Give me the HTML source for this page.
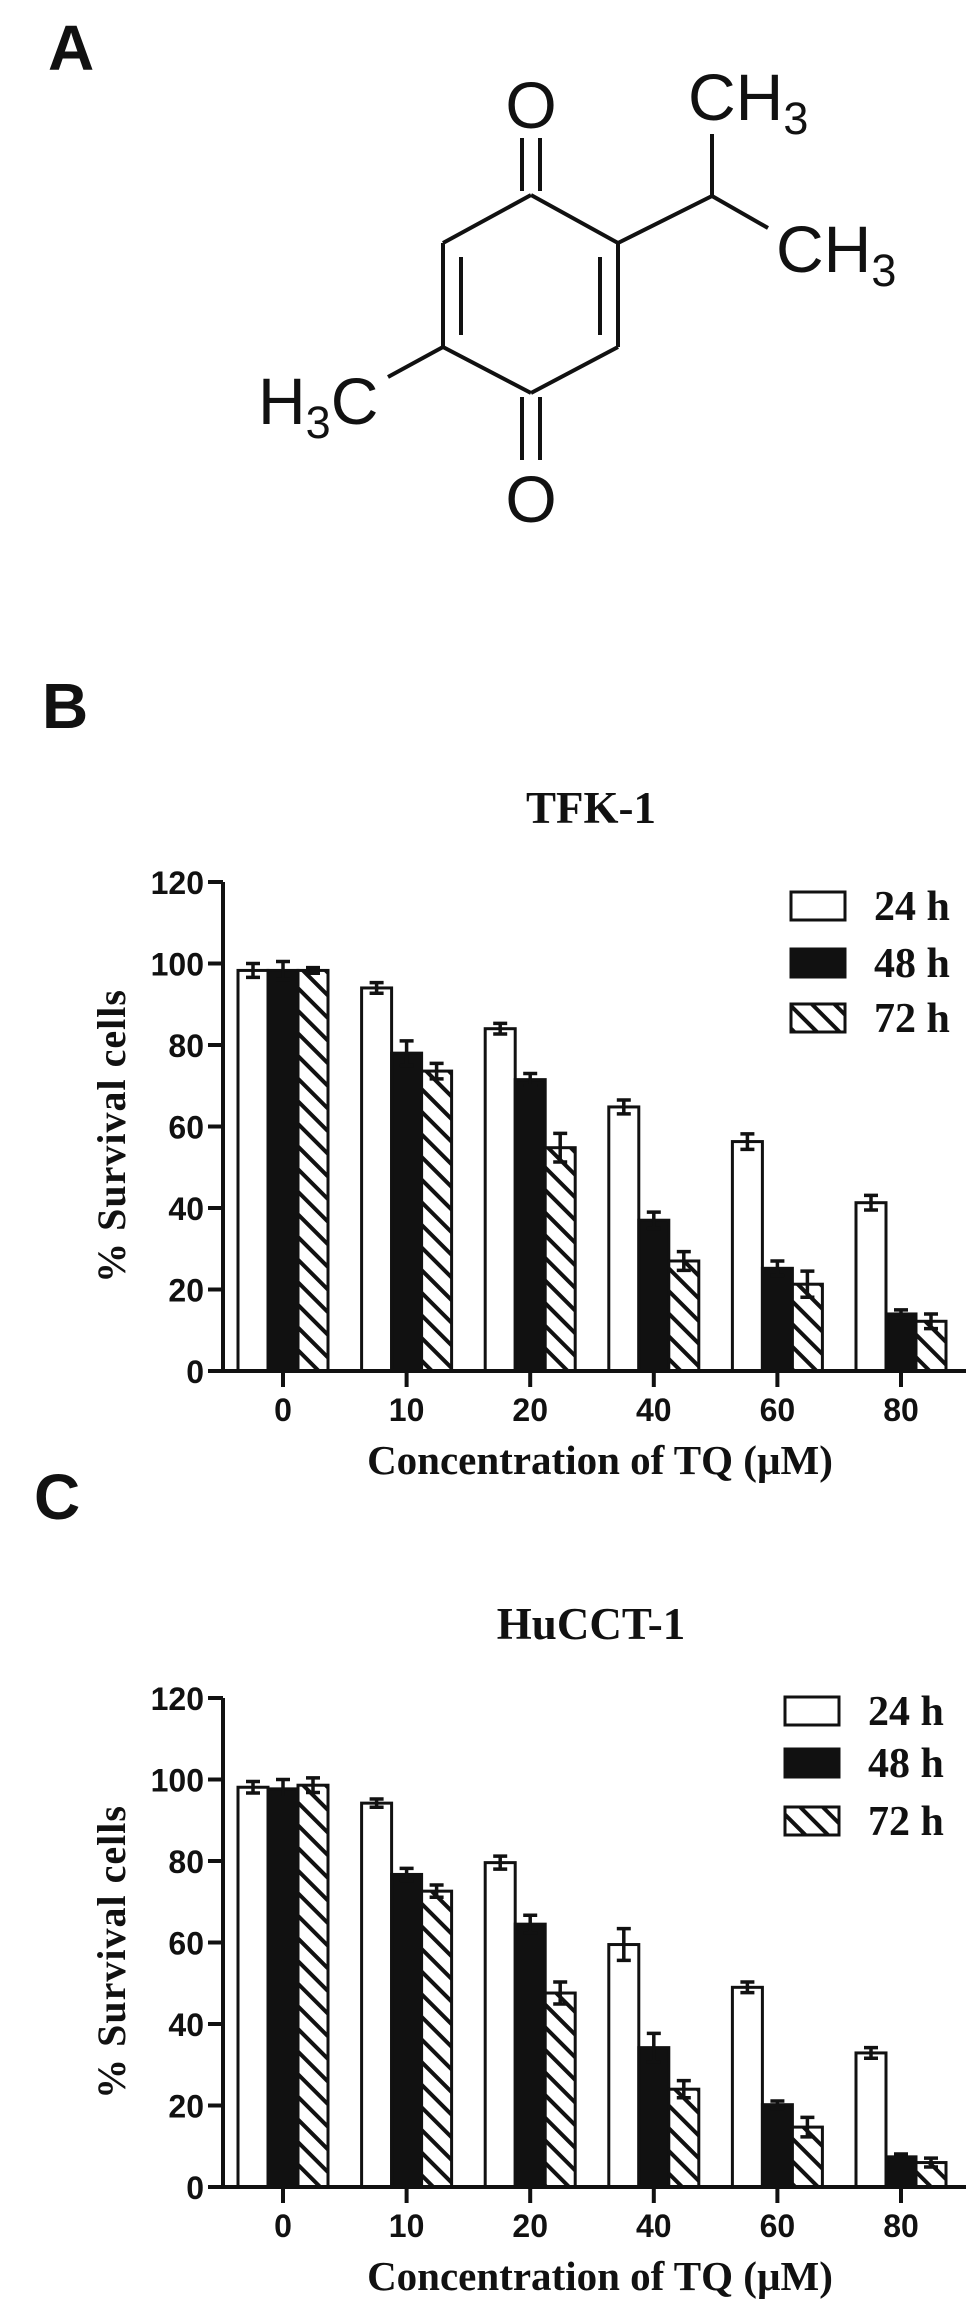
<!DOCTYPE html>
<html><head><meta charset="utf-8"><style>
html,body{margin:0;padding:0;background:#fff;}
svg{display:block;}
.tick{font-family:"Liberation Sans",sans-serif;font-weight:bold;font-size:32px;fill:#111;}
.tt{font-family:"Liberation Serif",serif;font-weight:bold;fill:#111;}
.mol{font-family:"Liberation Sans",sans-serif;font-size:66px;fill:#111;}
.sub{font-size:45px;}
.pl{font-family:"Liberation Sans",sans-serif;font-weight:bold;font-size:64px;fill:#111;}
</style></head><body>
<svg id="fig" width="969" height="2316" viewBox="0 0 969 2316" xmlns="http://www.w3.org/2000/svg">
<defs>
<pattern id="hatch" patternUnits="userSpaceOnUse" width="16" height="16" patternTransform="rotate(45)">
<rect width="16" height="16" fill="#fff"/>
<line x1="0" y1="8" x2="16" y2="8" stroke="#111" stroke-width="4"/>
</pattern>
</defs>
<text class="pl" x="48" y="70">A</text>
<text class="pl" x="42" y="728">B</text>
<text class="pl" x="34" y="1519">C</text>
<g stroke="#111" stroke-width="4" fill="none">
<line x1="531" y1="195" x2="443" y2="243"/>
<line x1="531" y1="195" x2="618" y2="243"/>
<line x1="443" y1="243" x2="443" y2="347"/>
<line x1="618" y1="243" x2="618" y2="347"/>
<line x1="443" y1="347" x2="531" y2="393"/>
<line x1="618" y1="347" x2="531" y2="393"/>
<line x1="461" y1="257" x2="461" y2="335"/>
<line x1="600" y1="257" x2="600" y2="335"/>
<line x1="522" y1="138" x2="522" y2="191"/>
<line x1="540" y1="138" x2="540" y2="191"/>
<line x1="522" y1="397" x2="522" y2="460"/>
<line x1="540" y1="397" x2="540" y2="460"/>
<line x1="443" y1="347" x2="388" y2="377"/>
<line x1="618" y1="243" x2="712" y2="196"/>
<line x1="712" y1="196" x2="712" y2="134"/>
<line x1="712" y1="196" x2="768" y2="228"/>
</g>
<text class="mol" x="531" y="128" text-anchor="middle">O</text>
<text class="mol" x="531" y="522" text-anchor="middle">O</text>
<text class="mol" x="258" y="424">H<tspan class="sub" dy="14">3</tspan><tspan dy="-14">C</tspan></text>
<text class="mol" x="688" y="120">CH<tspan class="sub" dy="14">3</tspan></text>
<text class="mol" x="776" y="272">CH<tspan class="sub" dy="14">3</tspan></text>
<g id="chartB"></g>
<g id="chartC"></g>
</svg>
<script>
const categories = ["0","10","20","40","60","80"];
const yTicks = [0,20,40,60,80,100,120];
const seriesNames = ["24 h","48 h","72 h"];
const tfk24 = [98.3,94.0,84.0,64.8,56.3,41.3];
const tfk48 = [98.3,78.0,71.5,37.0,25.2,14.0];
const tfk72 = [98.3,73.6,54.8,27.0,21.3,12.2];
const tfk24Err = [1.7,1.3,1.3,1.7,1.9,1.8];
const tfk48Err = [2.2,3.0,1.5,2.0,1.8,1.0];
const tfk72Err = [0.7,1.9,3.5,2.3,3.2,1.8];
const hu24 = [98.1,94.2,79.6,59.5,49.0,32.9];
const hu48 = [97.7,76.7,64.5,34.2,20.2,7.4];
const hu72 = [98.6,72.6,47.6,24.0,14.7,6.0];
const hu24Err = [1.4,1.0,1.6,3.9,1.3,1.3];
const hu48Err = [2.3,1.5,2.2,3.5,0.9,0.7];
const hu72Err = [1.8,1.5,2.7,2.1,2.4,1.1];

const NS = "http://www.w3.org/2000/svg";
function mk(parent, tag, attrs, txt){
  const e = document.createElementNS(NS, tag);
  for (const k in attrs) e.setAttribute(k, attrs[k]);
  if (txt !== undefined) e.textContent = txt;
  parent.appendChild(e);
  return e;
}
function drawChart(g, title, y0, legX, legTops, vals, errs){
  const x0 = 223, xEnd = 966, yMax = 120, pxPerUnit = 489/120;
  const y = v => y0 - v * pxPerUnit;
  const xc = i => 283 + i * 123.6;
  const bw = 30;
  const fills = ["#fff","#111","url(#hatch)"];
  const t = mk(g, "text", {x:591, y:y0-548, "text-anchor":"middle", class:"tt", "font-size":"45"}, title);
  
  
  for (let s = 0; s < 3; s++){
    for (let i = 0; i < categories.length; i++){
      const bx = xc(i) + (s-1)*bw - bw/2;
      const r = mk(g, "rect", {x:bx, y:y(vals[s][i]), width:bw, height:y0 - y(vals[s][i]), fill:fills[s], stroke:"#111", "stroke-width":"3"});
      
      
      const cx = bx + bw/2, hi = y(vals[s][i] + errs[s][i]), lo = y(vals[s][i] - errs[s][i]);
      const eb = mk(g, "path", {d:`M${cx},${hi}V${lo}M${cx-7},${hi}H${cx+7}M${cx-7},${lo}H${cx+7}`, stroke:"#111", "stroke-width":"3.5", fill:"none"});
      
      
    }
  }
  const ax = mk(g, "path", {d:`M${x0},${y(yMax)}V${y0}H${xEnd}`, stroke:"#111", "stroke-width":"4", fill:"none"});
  
  
  yTicks.forEach(v => {
    const tk = mk(g, "line", {x1:x0-15, x2:x0, y1:y(v), y2:y(v), stroke:"#111", "stroke-width":"4"});
    
    
    const tl = mk(g, "text", {x:x0-19, y:y(v)+12, "text-anchor":"end", class:"tick"}, String(v));
    
    
  });
  categories.forEach((c, i) => {
    const tk = mk(g, "line", {x1:xc(i), x2:xc(i), y1:y0, y2:y0+16, stroke:"#111", "stroke-width":"4"});
    
    
    const tl = mk(g, "text", {x:xc(i), y:y0+50, "text-anchor":"middle", class:"tick"}, c);
    
    
  });
  const xt = mk(g, "text", {x:600, y:y0+103, "text-anchor":"middle", class:"tt", "font-size":"41"}, "Concentration of TQ (\u00b5M)");
  
  
  const yt = mk(g, "text", {x:0, y:0, "text-anchor":"middle", class:"tt", "font-size":"40", "letter-spacing":"1", transform:`translate(125,${y0-235}) rotate(-90)`}, "% Survival cells");
  
  
  for (let s = 0; s < 3; s++){
    const lb = mk(g, "rect", {x:legX, y:legTops[s], width:54, height:28, fill:fills[s], stroke:"#111", "stroke-width":"3"});
    
    
    const lt = mk(g, "text", {x:legX+83, y:legTops[s]+28, class:"tt", "font-size":"42"}, seriesNames[s]);
    
    
  }
}
drawChart(document.getElementById("chartB"), "TFK-1", 1371, 791, [892,949,1004],
  [tfk24, tfk48, tfk72], [tfk24Err, tfk48Err, tfk72Err]);
drawChart(document.getElementById("chartC"), "HuCCT-1", 2187, 785, [1697,1749,1807],
  [hu24, hu48, hu72], [hu24Err, hu48Err, hu72Err]);
</script>
</body></html>
